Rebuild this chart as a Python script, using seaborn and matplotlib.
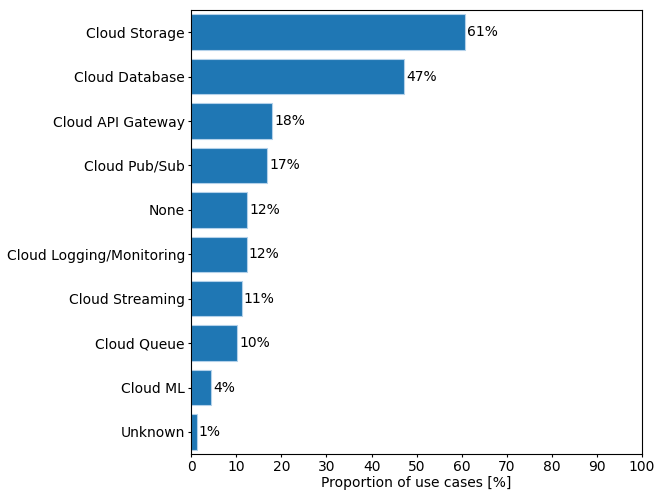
import pandas as pd
import seaborn as sns
import matplotlib
matplotlib.use("Agg")
import matplotlib.pyplot as plt

# values
services = ["Cloud Storage", "Cloud Database", "Cloud API Gateway", "Cloud Pub/Sub",
            "None", "Cloud Logging/Monitoring", "Cloud Streaming", "Cloud Queue",
            "Cloud ML", "Unknown"]
proportions = [60.8, 47.2, 18.0, 16.9, 12.4, 12.3, 11.2, 10.2, 4.4, 1.2]

df = pd.DataFrame({"service": services, "proportion": proportions})

fig, ax = plt.subplots(figsize=(6.64, 4.98), dpi=100)
fig.subplots_adjust(left=0.288, right=0.967, top=0.98, bottom=0.088)

sns.barplot(data=df, y="service", x="proportion", color="#1f77b4", saturation=1,
            width=0.8, edgecolor="#b3d1ea", linewidth=0.8, ax=ax)

ax.bar_label(ax.containers[0], fmt="%.0f%%", padding=1.5, fontsize=10)

ax.set_xlim(0, 100)
ax.set_xticks(range(0, 101, 10))
ax.set_xlabel("Proportion of use cases [%]", fontsize=10, labelpad=1)
ax.set_ylabel("")
ax.tick_params(labelsize=10, length=2.5, pad=2)

plt.savefig("out.png", dpi=100)
